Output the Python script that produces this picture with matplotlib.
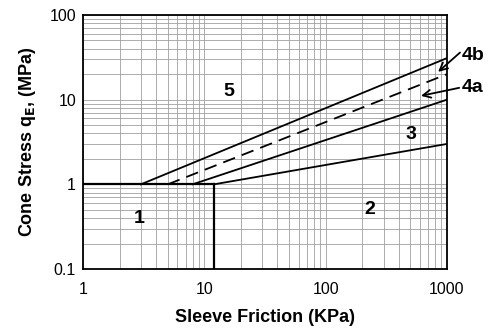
import matplotlib.pyplot as plt

plt.rcParams['font.family'] = ['Liberation Sans', 'DejaVu Sans']

# zone boundaries: each starts on qE = 1 and runs out to 1000 kPa
bound_start_x = [3, 5, 8, 12]
bound_end_y = [31, 20, 10, 3]
bound_dashed = [False, True, False, False]
x_end = 1000

# zone numbers and where they sit
zone_labels = ['5', '3', '2', '1']
zone_x = [16, 500, 230, 2.9]
zone_y = [12.5, 3.9, 0.5, 0.4]

# callouts for the 4a / 4b boundaries (text pos, arrow tail, arrow tip)
call_labels = ['4b', '4a']
call_text = [(1330, 33), (1330, 13.8)]
call_tail = [(1280, 36), (1260, 13.8)]
call_tip = [(845, 21.3), (610, 11.1)]

fig = plt.figure(figsize=(4.92, 3.29), dpi=100)
ax = fig.add_axes([83 / 492, 60 / 329, 364 / 492, 254 / 329])

ax.set_xscale('log')
ax.set_yscale('log')
ax.set_xlim(1, 1000)
ax.set_ylim(0.1, 100)

ax.grid(True, which='both', color='#a0a0a0', linewidth=0.6)
ax.set_axisbelow(True)

for x0, y1, dashed in zip(bound_start_x, bound_end_y, bound_dashed):
    if dashed:
        ax.plot([x0, x_end], [1, y1], color='black', linewidth=1.3, dashes=(7, 4))
    else:
        ax.plot([x0, x_end], [1, y1], color='black', linewidth=1.3)

# qE = 1 line and the vertical split at 12 kPa
ax.plot([1, 12], [1, 1], color='black', linewidth=1.6)
ax.plot([12, 12], [0.1, 1], color='black', linewidth=1.6)

for lab, zx, zy in zip(zone_labels, zone_x, zone_y):
    ax.text(zx, zy, lab, fontsize=14, fontweight='bold', ha='center', va='center')

for lab, txt, tail, tip in zip(call_labels, call_text, call_tail, call_tip):
    ax.text(txt[0], txt[1], lab, fontsize=14, fontweight='bold',
            ha='left', va='center', clip_on=False)
    ax.annotate('', xy=tip, xytext=tail, annotation_clip=False,
                arrowprops=dict(arrowstyle='->', color='black', lw=1.3,
                                mutation_scale=14, shrinkA=0, shrinkB=0))

ax.set_xticks([1, 10, 100, 1000])
ax.set_xticklabels(['1', '10', '100', '1000'])
ax.set_yticks([0.1, 1, 10, 100])
ax.set_yticklabels(['0.1', '1', '10', '100'])
ax.tick_params(which='both', length=0, labelsize=11.5, pad=5)
ax.tick_params(axis='x', pad=9)

for s in ax.spines.values():
    s.set_linewidth(1.3)

ax.set_xlabel('Sleeve Friction (KPa)', fontsize=13, fontweight='bold', labelpad=9)
ax.set_ylabel('Cone Stress q$_\\mathbf{E}$, (MPa)', fontsize=13, fontweight='bold', labelpad=8)

fig.savefig('out.png', dpi=100)
